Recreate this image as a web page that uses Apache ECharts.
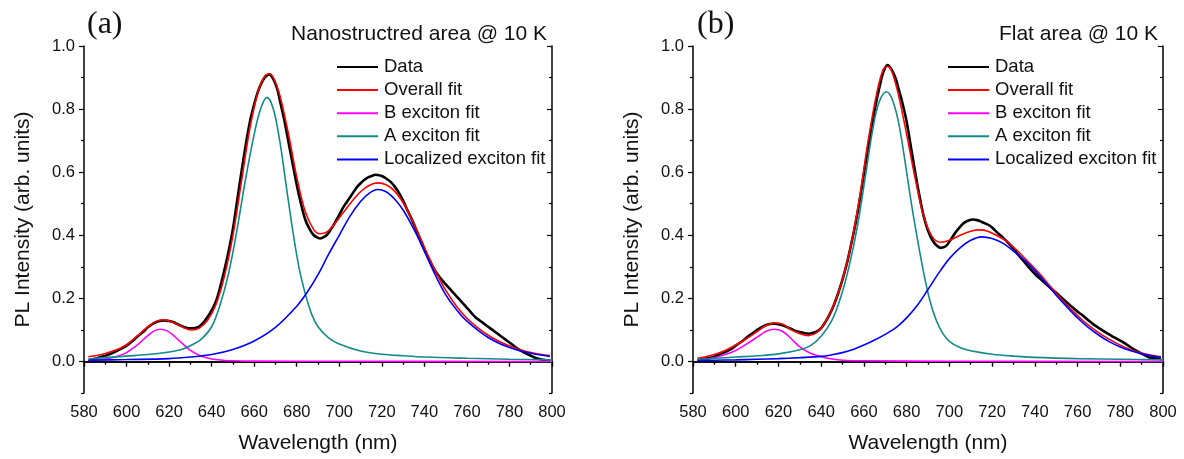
<!DOCTYPE html>
<html><head><meta charset="utf-8">
<script src="https://cdn.jsdelivr.net/npm/echarts@6/dist/echarts.min.js"></script>
<style>html,body{margin:0;padding:0;background:#fff}#c{width:1184px;height:459px}</style>
</head><body><div id="c"></div>
<script>
// ---- tick labels ----
const yMajor = [0, 0.2, 0.4, 0.6, 0.8, 1.0];
const yMinor = [-0.1, 0.1, 0.3, 0.5, 0.7, 0.9];
const seriesNames = ['Data', 'Overall fit', 'B exciton fit', 'A exciton fit', 'Localized exciton fit'];

// ---- panel (a): Nanostructred area ----
const aData = [[583,0.005],[586,0.01],[590,0.018],[593,0.026],[595,0.032],[598,0.042],[600,0.05],[603,0.066],[605,0.078],[608,0.095],[610,0.108],[612,0.118],[614,0.125],[616,0.129],[618,0.13],[620,0.128],[622,0.125],[624,0.118],[626,0.112],[628,0.107],[630,0.105],[632,0.106],[634,0.11],[636,0.122],[638,0.14],[640,0.162],[642,0.19],[644,0.235],[646,0.29],[648,0.35],[650,0.42],[652,0.51],[654,0.6],[656,0.685],[658,0.76],[660,0.815],[662,0.86],[664,0.89],[665,0.9],[667,0.91],[669,0.895],[671,0.86],[672,0.83],[674,0.77],[676,0.7],[678,0.63],[680,0.56],[682,0.5],[684,0.45],[686,0.42],[688,0.4],[690,0.392],[691,0.39],[692,0.392],[694,0.4],[696,0.418],[698,0.44],[700,0.465],[702,0.49],[704,0.51],[706,0.53],[708,0.55],[710,0.565],[712,0.577],[714,0.585],[716,0.59],[717,0.592],[718,0.591],[720,0.588],[722,0.58],[724,0.57],[726,0.555],[728,0.535],[730,0.51],[732,0.48],[734,0.452],[736,0.42],[738,0.388],[740,0.355],[742,0.326],[744,0.3],[746,0.278],[748,0.26],[750,0.245],[752,0.23],[754,0.215],[756,0.2],[758,0.185],[760,0.17],[762,0.155],[764,0.14],[766,0.13],[768,0.12],[770,0.11],[772,0.1],[774,0.09],[776,0.08],[778,0.07],[780,0.06],[782,0.05],[784,0.04],[786,0.032],[788,0.025],[790,0.018],[792,0.012],[794,0.008],[796,0.005],[799,0.002]];
const aOverall = [[582,0.015],[586,0.019],[590,0.025],[595,0.036],[600,0.053],[605,0.08],[610,0.11],[614,0.127],[617,0.132],[620,0.128],[624,0.117],[628,0.104],[631,0.1],[634,0.105],[638,0.13],[642,0.18],[646,0.27],[650,0.4],[654,0.57],[658,0.74],[662,0.86],[665,0.905],[667,0.912],[669,0.9],[672,0.845],[676,0.725],[680,0.585],[684,0.475],[688,0.418],[691,0.405],[694,0.41],[698,0.438],[702,0.473],[706,0.508],[710,0.538],[714,0.558],[718,0.566],[722,0.56],[726,0.54],[730,0.503],[734,0.452],[738,0.393],[742,0.332],[746,0.276],[750,0.226],[755,0.176],[760,0.137],[765,0.107],[770,0.083],[775,0.064],[780,0.049],[785,0.037],[790,0.028],[795,0.022],[799,0.019]];
const aB = [[582,0.003],[586,0.005],[590,0.008],[595,0.015],[600,0.028],[605,0.052],[610,0.082],[613,0.097],[616,0.102],[619,0.097],[622,0.083],[626,0.058],[630,0.035],[635,0.017],[640,0.008],[645,0.004],[650,0.002],[660,0.001],[700,0.0005],[800,0.0]];
const aA = [[582,0.008],[590,0.012],[600,0.017],[610,0.022],[620,0.03],[625,0.036],[630,0.05],[635,0.07],[640,0.11],[644,0.18],[648,0.28],[652,0.42],[656,0.58],[660,0.72],[663,0.8],[666,0.837],[669,0.8],[672,0.7],[675,0.56],[678,0.42],[681,0.3],[684,0.215],[687,0.15],[690,0.11],[695,0.075],[700,0.055],[710,0.033],[720,0.023],[730,0.018],[740,0.014],[760,0.01],[780,0.007],[800,0.005]];
const aLoc = [[582,0.004],[600,0.006],[620,0.009],[630,0.014],[640,0.022],[650,0.038],[660,0.065],[670,0.108],[680,0.175],[685,0.22],[690,0.275],[695,0.34],[700,0.4],[705,0.46],[710,0.507],[714,0.533],[718,0.545],[722,0.538],[726,0.515],[730,0.48],[735,0.42],[740,0.35],[745,0.276],[750,0.212],[755,0.165],[760,0.128],[770,0.076],[780,0.044],[790,0.026],[799,0.016]];

// ---- panel (b): Flat area ----
const bData = [[583,0.005],[586,0.009],[590,0.015],[593,0.024],[595,0.03],[598,0.04],[600,0.05],[603,0.064],[605,0.075],[608,0.09],[610,0.1],[612,0.108],[614,0.115],[616,0.119],[618,0.12],[620,0.118],[622,0.115],[624,0.109],[626,0.103],[628,0.097],[630,0.093],[632,0.09],[634,0.088],[636,0.09],[638,0.095],[640,0.106],[642,0.125],[644,0.15],[646,0.18],[648,0.217],[650,0.26],[652,0.31],[654,0.37],[656,0.435],[658,0.51],[660,0.595],[662,0.68],[664,0.76],[666,0.83],[668,0.89],[669,0.915],[671,0.94],[673,0.925],[675,0.895],[676,0.87],[678,0.82],[680,0.76],[682,0.68],[684,0.6],[686,0.525],[688,0.46],[690,0.415],[692,0.385],[694,0.368],[696,0.36],[698,0.364],[699,0.37],[701,0.39],[703,0.41],[705,0.427],[707,0.44],[709,0.447],[711,0.45],[713,0.448],[715,0.443],[717,0.437],[719,0.43],[721,0.418],[723,0.405],[725,0.393],[727,0.38],[730,0.357],[732,0.34],[735,0.316],[737,0.3],[740,0.278],[742,0.265],[745,0.247],[747,0.235],[750,0.218],[752,0.205],[755,0.187],[757,0.175],[760,0.158],[762,0.148],[765,0.131],[767,0.12],[770,0.106],[772,0.097],[775,0.085],[777,0.077],[780,0.066],[782,0.058],[784,0.049],[786,0.04],[788,0.032],[790,0.025],[792,0.018],[794,0.012],[796,0.01],[799,0.008]];
const bOverall = [[582,0.01],[586,0.015],[590,0.022],[595,0.035],[600,0.052],[605,0.072],[610,0.095],[614,0.113],[618,0.122],[622,0.118],[626,0.1],[630,0.088],[634,0.082],[638,0.092],[642,0.125],[646,0.18],[650,0.26],[654,0.37],[658,0.52],[662,0.7],[666,0.85],[669,0.925],[671,0.935],[673,0.92],[676,0.85],[680,0.72],[684,0.58],[688,0.46],[692,0.395],[696,0.378],[700,0.384],[705,0.4],[710,0.413],[714,0.417],[718,0.413],[722,0.4],[727,0.38],[732,0.35],[737,0.315],[742,0.28],[747,0.24],[752,0.2],[757,0.165],[762,0.133],[767,0.105],[772,0.082],[777,0.062],[782,0.045],[788,0.03],[794,0.02],[799,0.015]];
const bB = [[582,0.004],[586,0.007],[590,0.012],[595,0.022],[600,0.035],[605,0.055],[610,0.077],[614,0.095],[618,0.102],[622,0.095],[626,0.072],[630,0.046],[635,0.026],[640,0.015],[645,0.008],[650,0.004],[660,0.002],[700,0.0005],[800,0.0]];
const bA = [[582,0.007],[590,0.01],[600,0.014],[610,0.018],[620,0.024],[630,0.037],[635,0.05],[640,0.08],[645,0.13],[649,0.2],[653,0.3],[657,0.43],[661,0.6],[664,0.73],[667,0.82],[670.5,0.855],[673,0.835],[676,0.765],[679,0.645],[682,0.51],[685,0.39],[688,0.28],[691,0.19],[694,0.128],[697,0.088],[700,0.064],[705,0.044],[710,0.034],[720,0.023],[730,0.017],[740,0.013],[760,0.009],[780,0.007],[800,0.005]];
const bLoc = [[582,0.003],[590,0.004],[600,0.005],[610,0.007],[620,0.009],[630,0.012],[640,0.016],[645,0.021],[650,0.028],[655,0.038],[660,0.052],[665,0.068],[670,0.086],[675,0.107],[680,0.138],[685,0.178],[690,0.228],[695,0.28],[700,0.326],[705,0.36],[710,0.384],[715,0.395],[720,0.39],[725,0.375],[730,0.35],[735,0.322],[740,0.288],[745,0.25],[750,0.21],[755,0.173],[760,0.138],[765,0.108],[770,0.083],[775,0.062],[780,0.046],[785,0.034],[790,0.024],[795,0.017],[799,0.013]];

const colors = ['#000000', '#ff0000', '#ff00ff', '#138a8a', '#0000ff'];
const FONT = 'Liberation Sans, Arial, sans-serif';
const axisLine = { show: true, lineStyle: { color: '#000', width: 1.5 } };

function xAxes(gi) {
  return [
    { gridIndex: gi, type: 'value', position: 'bottom', min: 580, max: 800, interval: 20,
      axisLine, splitLine: { show: false },
      axisTick: { show: true, length: 5, lineStyle: { color: '#000', width: 1.2 } },
      minorTick: { show: true, splitNumber: 2, length: 3, lineStyle: { color: '#000', width: 1.2 } },
      axisLabel: { color: '#111', fontSize: 16.5, fontFamily: FONT, margin: 11 },
      name: 'Wavelength (nm)', nameLocation: 'middle', nameGap: 40,
      nameTextStyle: { color: '#111', fontSize: 21, fontFamily: FONT } },
    { gridIndex: gi, type: 'value', position: 'top', min: 580, max: 800, interval: 20,
      axisLine, splitLine: { show: false },
      axisTick: { show: true, inside: true, length: 5, lineStyle: { color: '#000', width: 1.2 } },
      minorTick: { show: true, splitNumber: 2, length: 3, lineStyle: { color: '#000', width: 1.2 } },
      axisLabel: { show: false } }
  ];
}
function yAxes(gi) {
  const base = { gridIndex: gi, type: 'value', min: -0.1, max: 1.0, splitLine: { show: false } };
  return [
    Object.assign({}, base, { position: 'left', axisLine,
      axisTick: { show: true, length: 5, customValues: yMajor, lineStyle: { color: '#000', width: 1.2 } },
      axisLabel: { show: true, customValues: yMajor, formatter: v => v.toFixed(1), color: '#111', fontSize: 16.5, fontFamily: FONT, margin: 9 },
      name: 'PL Intensity (arb. units)', nameLocation: 'middle', nameGap: 50,
      nameTextStyle: { color: '#111', fontSize: 21, fontFamily: FONT } }),
    Object.assign({}, base, { position: 'left', axisLine: { show: false },
      axisTick: { show: true, length: 3, customValues: yMinor, lineStyle: { color: '#000', width: 1.2 } },
      axisLabel: { show: false } }),
    Object.assign({}, base, { position: 'right', axisLine,
      axisTick: { show: true, inside: true, length: 5, customValues: yMajor, lineStyle: { color: '#000', width: 1.2 } },
      axisLabel: { show: false } }),
    Object.assign({}, base, { position: 'right', axisLine: { show: false },
      axisTick: { show: true, inside: true, length: 3, customValues: yMinor, lineStyle: { color: '#000', width: 1.2 } },
      axisLabel: { show: false } })
  ];
}
function panelSeries(gi, sets) {
  return sets.map((d, i) => ({
    name: seriesNames[i], type: 'line', xAxisIndex: gi * 2, yAxisIndex: gi * 4,
    data: d, showSymbol: false, smooth: 0.35, animation: false,
    lineStyle: { color: colors[i], width: i === 0 ? 2.6 : 1.6 },
    itemStyle: { color: colors[i] }
  }));
}
function legend(left) {
  return { orient: 'vertical', left: left, top: 57.5, padding: 0, itemGap: 4.1,
    itemWidth: 41, itemHeight: 2, icon: 'rect', selectedMode: false,
    textStyle: { color: '#111', fontSize: 18.5, fontFamily: FONT, lineHeight: 18.5, padding: [0, 0, 0, 1] },
    data: seriesNames };
}

const chart = echarts.init(document.getElementById('c'), null, { renderer: 'canvas' });
chart.setOption({
  backgroundColor: '#fff',
  animation: false,
  title: [
    { text: '(a)', left: 82, top: 4, textStyle: { fontFamily: 'Liberation Serif, Times New Roman, serif', fontSize: 32, fontWeight: 'normal', color: '#111' } },
    { text: 'Nanostructred area @ 10 K', right: 632, top: 19, textStyle: { fontFamily: FONT, fontSize: 21, fontWeight: 'normal', color: '#111' } },
    { text: '(b)', left: 692, top: 4, textStyle: { fontFamily: 'Liberation Serif, Times New Roman, serif', fontSize: 32, fontWeight: 'normal', color: '#111' } },
    { text: 'Flat area @ 10 K', right: 21, top: 19, textStyle: { fontFamily: FONT, fontSize: 21, fontWeight: 'normal', color: '#111' } }
  ],
  legend: [legend(337), legend(948)],
  grid: [
    { left: 84, top: 46, width: 468, height: 348, containLabel: false },
    { left: 693, top: 46, width: 470, height: 348, containLabel: false }
  ],
  xAxis: [...xAxes(0), ...xAxes(1)],
  yAxis: [...yAxes(0), ...yAxes(1)],
  series: [
    ...panelSeries(0, [aData, aOverall, aB, aA, aLoc]),
    ...panelSeries(1, [bData, bOverall, bB, bA, bLoc])
  ]
});
</script></body></html>
